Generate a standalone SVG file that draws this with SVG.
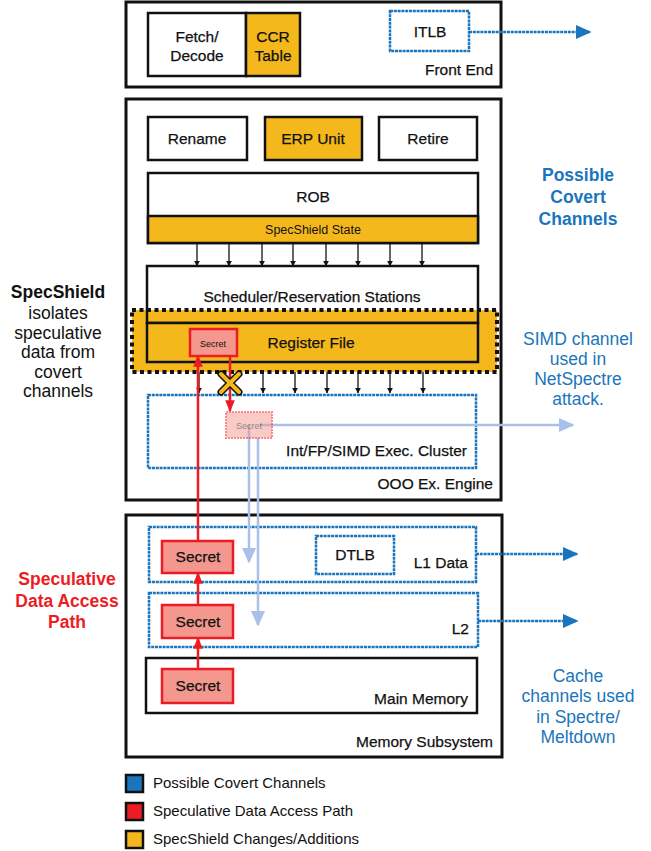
<svg xmlns="http://www.w3.org/2000/svg" width="651" height="851" viewBox="0 0 651 851">
<defs>
<style>
text{font-family:"Liberation Sans",Arial,sans-serif;fill:#111;}
.box{fill:#fff;stroke:#111;stroke-width:2.5;}
.outer{fill:#fff;stroke:#111;stroke-width:3;}
.yel{fill:#F5B81C;stroke:#111;stroke-width:2.5;}
.cov{fill:none;stroke:#1B75BC;stroke-width:2.5;stroke-dasharray:3 0.8;}
.sec{fill:#F4978E;stroke:#ED1C24;stroke-width:2.5;}
.t15{font-size:15.5px;stroke:#111;stroke-width:0.25;}
.c{text-anchor:middle;}
.r{text-anchor:end;}
.blk{stroke:#111;stroke-width:1.3;fill:none;}
.bl{stroke:#1B75BC;stroke-width:2.5;stroke-dasharray:3 0.8;fill:none;}
.lb{stroke:#A9C1E8;stroke-width:2.5;fill:none;}
.red{stroke:#ED1C24;stroke-width:2.5;fill:none;}
.side{font-size:17.5px;}
</style>
<marker id="ab" viewBox="0 0 10 10" refX="9" refY="5" markerWidth="6" markerHeight="7" markerUnits="userSpaceOnUse" orient="auto"><path d="M0,0 L10,5 L0,10 z" fill="#111"/></marker>
<marker id="ablue" viewBox="0 0 10 10" refX="9" refY="5" markerWidth="16" markerHeight="16" markerUnits="userSpaceOnUse" orient="auto"><path d="M0,0.5 L10,5 L0,9.5 z" fill="#1B75BC"/></marker>
<marker id="alb" viewBox="0 0 10 10" refX="9" refY="5" markerWidth="16" markerHeight="16" markerUnits="userSpaceOnUse" orient="auto"><path d="M0,0.5 L10,5 L0,9.5 z" fill="#A9C1E8"/></marker>
<marker id="ared" viewBox="0 0 10 10" refX="9" refY="5" markerWidth="12" markerHeight="12" markerUnits="userSpaceOnUse" orient="auto"><path d="M0,1 L10,5 L0,9 z" fill="#ED1C24"/></marker>
</defs>

<!-- Front End -->
<g id="front-end">
<rect class="outer" x="126" y="2" width="375" height="85"/>
<text class="t15 r" x="493" y="75">Front End</text>
</g>
<g id="fetch-decode">
<rect class="box" x="148" y="13" width="98" height="63"/>
<text class="t15 c" x="197" y="42">Fetch/</text>
<text class="t15 c" x="197" y="61">Decode</text>
</g>
<g id="ccr-table">
<rect class="yel" x="246" y="13" width="54" height="63"/>
<text class="t15 c" x="273" y="42">CCR</text>
<text class="t15 c" x="273" y="61">Table</text>
</g>
<g id="itlb">
<rect class="cov" x="390" y="11" width="79" height="40"/>
<text class="t15 c" x="430" y="37">ITLB</text>
</g>

<!-- OOO engine -->
<g id="ooo-engine">
<rect class="outer" x="126" y="99" width="375" height="401"/>
<text class="t15 r" x="493" y="489">OOO Ex. Engine</text>
</g>
<g id="rename">
<rect class="box" x="148" y="117" width="99" height="43"/>
<text class="t15 c" x="197" y="144">Rename</text>
</g>
<g id="erp-unit">
<rect class="yel" x="265" y="117" width="97" height="43"/>
<text class="t15 c" x="313" y="144">ERP Unit</text>
</g>
<g id="retire">
<rect class="box" x="379" y="117" width="98" height="43"/>
<text class="t15 c" x="428" y="144">Retire</text>
</g>
<g id="rob">
<rect class="box" x="148" y="173" width="330" height="70"/>
<rect class="yel" x="148" y="216" width="330" height="27"/>
<text class="t15 c" x="313" y="202">ROB</text>
<text class="c" x="313" y="234" font-size="12.5">SpecShield State</text>
</g>
<g id="scheduler">
<rect x="147" y="266" width="331" height="57" fill="#fff"/>
</g>
<g id="specshield-region">
<rect x="132" y="310" width="365" height="62" fill="#F5B81C" stroke="#111" stroke-width="4" stroke-dasharray="4 3.5"/>
</g>
<g id="scheduler-outline">
<rect x="147" y="266" width="331" height="57" fill="none" stroke="#111" stroke-width="2.5"/>
<text class="t15 c" x="312" y="302">Scheduler/Reservation Stations</text>
</g>
<g id="register-file">
<rect class="yel" x="147" y="323" width="331" height="39"/>
<text class="t15 c" x="311" y="348">Register File</text>
</g>
<g id="secret-rf">
<rect class="sec" x="190" y="329" width="47" height="27"/>
<text class="c" x="213" y="347" font-size="9">Secret</text>
</g>
<g id="exec-cluster">
<rect class="cov" x="148" y="395" width="328" height="73"/>
<text class="t15 r" x="467" y="456">Int/FP/SIMD Exec. Cluster</text>
</g>

<!-- Memory -->
<g id="memory-subsystem">
<rect class="outer" x="126" y="515" width="376" height="242"/>
<text class="t15 r" x="493" y="747">Memory Subsystem</text>
</g>
<g id="l1-data">
<rect class="cov" x="149" y="527" width="327" height="55"/>
<text class="t15 r" x="468" y="568">L1 Data</text>
</g>
<g id="dtlb">
<rect class="cov" x="316" y="536" width="78" height="38"/>
<text class="t15 c" x="355" y="560">DTLB</text>
</g>
<g id="l2">
<rect class="cov" x="149" y="593" width="329" height="54"/>
<text class="t15 r" x="469" y="634">L2</text>
</g>
<g id="main-memory">
<rect class="box" x="146" y="658" width="331" height="55"/>
<text class="t15 r" x="468" y="704">Main Memory</text>
</g>
<g id="secret-l1">
<rect class="sec" x="162" y="541" width="71" height="32"/>
<text class="t15 c" x="198" y="562">Secret</text>
</g>
<g id="secret-l2">
<rect class="sec" x="162" y="605" width="71" height="33"/>
<text class="t15 c" x="198" y="627">Secret</text>
</g>
<g id="secret-mm">
<rect class="sec" x="162" y="669" width="71" height="34"/>
<text class="t15 c" x="198" y="691">Secret</text>
</g>

<!-- connectors -->
<g id="connectors">
<g class="blk" marker-end="url(#ab)">
<line x1="197" y1="243" x2="197" y2="266"/>
<line x1="229" y1="243" x2="229" y2="266"/>
<line x1="262" y1="243" x2="262" y2="266"/>
<line x1="293" y1="243" x2="293" y2="266"/>
<line x1="326" y1="243" x2="326" y2="266"/>
<line x1="358" y1="243" x2="358" y2="266"/>
<line x1="390" y1="243" x2="390" y2="266"/>
<line x1="422" y1="243" x2="422" y2="266"/>
<line x1="199" y1="372" x2="199" y2="393"/>
<line x1="263" y1="372" x2="263" y2="393"/>
<line x1="295" y1="372" x2="295" y2="393"/>
<line x1="327" y1="372" x2="327" y2="393"/>
<line x1="358" y1="372" x2="358" y2="393"/>
<line x1="390" y1="372" x2="390" y2="393"/>
<line x1="423" y1="372" x2="423" y2="393"/>
</g>
<line class="bl" x1="469" y1="32" x2="590" y2="32" marker-end="url(#ablue)"/>
<line class="bl" x1="476" y1="554" x2="577" y2="554" marker-end="url(#ablue)"/>
<line class="bl" x1="478" y1="621" x2="577" y2="621" marker-end="url(#ablue)"/>
<line class="lb" x1="260" y1="425" x2="573" y2="425" marker-end="url(#alb)"/>
<line class="lb" x1="249" y1="425" x2="249" y2="562" marker-end="url(#alb)"/>
<line class="lb" x1="258" y1="438" x2="258" y2="625" marker-end="url(#alb)"/>
<g id="secret-faded" opacity="0.5">
<rect x="226" y="412" width="46" height="26" fill="#F4978E" stroke="#ED1C24" stroke-width="2" stroke-dasharray="2 1"/>
<text class="c" x="249" y="429" font-size="9" fill="#555">Secret</text>
</g>
<line class="red" x1="198" y1="669" x2="198" y2="638" marker-end="url(#ared)"/>
<line class="red" x1="198" y1="605" x2="198" y2="573" marker-end="url(#ared)"/>
<line class="red" x1="198" y1="541" x2="198" y2="356" marker-end="url(#ared)"/>
<line class="red" x1="230" y1="356" x2="230" y2="411" marker-end="url(#ared)"/>
<g id="block-x">
<path d="M221,374 L239,392 M239,374 L221,392" stroke="#111" stroke-width="7" stroke-linecap="round"/>
<path d="M221,374 L239,392 M239,374 L221,392" stroke="#F5B81C" stroke-width="4" stroke-linecap="round"/>
</g>
</g>

<!-- side notes -->
<g id="note-specshield">
<text class="side c" x="58" y="298" font-weight="bold">SpecShield</text>
<text class="side c" x="58" y="319">isolates</text>
<text class="side c" x="58" y="339">speculative</text>
<text class="side c" x="58" y="358">data from</text>
<text class="side c" x="58" y="378">covert</text>
<text class="side c" x="58" y="397">channels</text>
</g>
<g id="note-path">
<text class="side c" x="67" y="585" font-weight="bold" style="fill:#ED1C24">Speculative</text>
<text class="side c" x="67" y="607" font-weight="bold" style="fill:#ED1C24">Data Access</text>
<text class="side c" x="67" y="628" font-weight="bold" style="fill:#ED1C24">Path</text>
</g>
<g id="note-covert">
<text class="side c" x="578" y="181" font-weight="bold" style="fill:#1B75BC">Possible</text>
<text class="side c" x="578" y="203" font-weight="bold" style="fill:#1B75BC">Covert</text>
<text class="side c" x="578" y="225" font-weight="bold" style="fill:#1B75BC">Channels</text>
</g>
<g id="note-simd">
<text class="side c" x="578" y="345" style="fill:#1B75BC">SIMD channel</text>
<text class="side c" x="578" y="365" style="fill:#1B75BC">used in</text>
<text class="side c" x="578" y="385" style="fill:#1B75BC">NetSpectre</text>
<text class="side c" x="578" y="405" style="fill:#1B75BC">attack.</text>
</g>
<g id="note-cache">
<text class="side c" x="578" y="682" style="fill:#1B75BC">Cache</text>
<text class="side c" x="578" y="702" style="fill:#1B75BC">channels used</text>
<text class="side c" x="578" y="723" style="fill:#1B75BC">in Spectre/</text>
<text class="side c" x="578" y="743" style="fill:#1B75BC">Meltdown</text>
</g>

<!-- legend -->
<g id="legend">
<rect x="126" y="775" width="17" height="17" fill="#1B75BC" stroke="#111" stroke-width="2.5"/>
<rect x="126" y="803" width="17" height="17" fill="#ED1C24" stroke="#111" stroke-width="2.5"/>
<rect x="126" y="831" width="17" height="17" fill="#F5B81C" stroke="#111" stroke-width="2.5"/>
<text x="153" y="788" font-size="15">Possible Covert Channels</text>
<text x="153" y="816" font-size="15">Speculative Data Access Path</text>
<text x="153" y="844" font-size="15">SpecShield Changes/Additions</text>
</g>
</svg>
